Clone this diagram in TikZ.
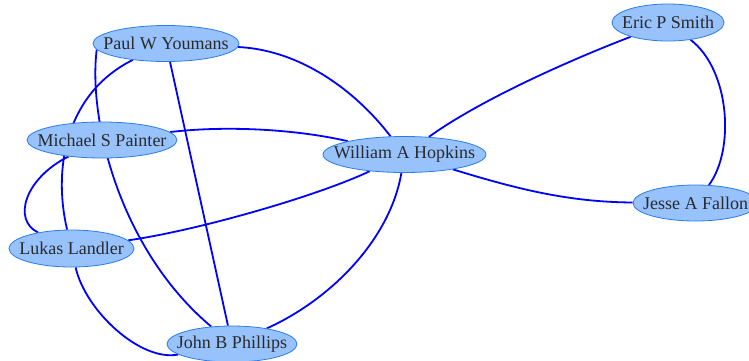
\documentclass[tikz,border=0pt]{standalone}
\usepackage{fontspec}
\setmainfont{Liberation Serif}
\usetikzlibrary{shapes.geometric,backgrounds}
\definecolor{nodefill}{HTML}{97C2FC}
\definecolor{nodeborder}{HTML}{2B7CE9}
\definecolor{labelcol}{HTML}{2A2A2A}
\definecolor{edgecol}{HTML}{0000FF}
\begin{document}
\begin{tikzpicture}[x=1pt,y=-1pt,
  person/.style={ellipse, draw=nodeborder, line width=0.8pt, fill=nodefill,
    inner sep=0pt, minimum height=36pt, text=labelcol,
    font=\fontsize{18}{18}\selectfont},
  link/.style={draw=edgecol, line width=1.8pt}]
\useasboundingbox (0,0) rectangle (749,360);
\node[person, minimum width=146pt] (paul) at (166,43.5) {\makebox[0pt]{Paul W Youmans}};
\node[person, minimum width=150pt] (michael) at (102,140) {\makebox[0pt]{Michael S Painter}};
\node[person, minimum width=163pt] (william) at (404.5,154.5) {\makebox[0pt]{William A Hopkins}};
\node[person, minimum width=112pt, minimum height=37pt] (eric) at (668,22.5) {\makebox[0pt]{Eric P Smith}};
\node[person, minimum width=125pt] (jesse) at (695.5,203) {\makebox[0pt]{Jesse A Fallon}};
\node[person, minimum width=125pt, minimum height=37pt] (lukas) at (71.5,248.5) {\makebox[0pt]{Lukas Landler}};
\node[person, minimum width=130pt] (john) at (232,344) {\makebox[0pt]{John B Phillips}};
\begin{pgfonlayer}{background}
\draw[link] (paul) .. controls (300,50) and (355,90) .. (william);
\draw[link] (paul) -- (john);
\draw[link] (paul) .. controls (68,92) and (52,165) .. (lukas);
\draw[link] (paul.185) .. controls (88,120) and (120,250) .. (john);
\draw[link] (michael) .. controls (230,125) and (300,130) .. (william);
\draw[link] (michael) .. controls (25,178) and (12,220) .. (lukas);
\draw[link] (william) .. controls (480,100) and (570,60) .. (eric);
\draw[link] (william) .. controls (520,190) and (570,202) .. (jesse);
\draw[link] (william) .. controls (320,195) and (200,230) .. (lukas);
\draw[link] (william) .. controls (390,240) and (330,300) .. (john);
\draw[link] (eric) .. controls (730,70) and (735,150) .. (jesse);
\draw[link] (lukas) .. controls (85,310) and (140,362) .. (john);
\end{pgfonlayer}
\end{tikzpicture}
\end{document}
